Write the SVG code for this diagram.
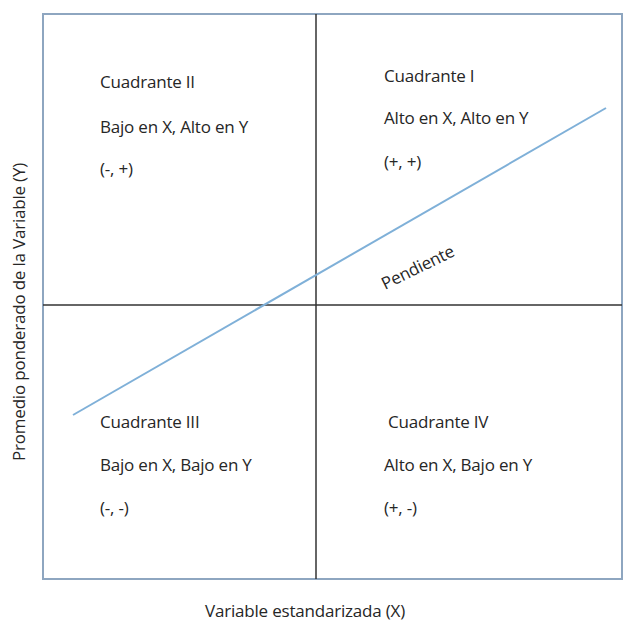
<svg xmlns="http://www.w3.org/2000/svg" width="625" height="621" viewBox="0 0 625 621">
<style>
text{font-family:"Open Sans","Liberation Sans",sans-serif;font-size:17px;fill:#262626;letter-spacing:-0.2px}
.ax{stroke:#333;stroke-width:1.5;fill:none}
</style>
<rect width="625" height="621" fill="#fff"/>
<g id="frame">
<rect x="43" y="14" width="579" height="565" fill="none" stroke="#8ea6c0" stroke-width="2"/>
</g>
<g id="connectors">
<line class="ax" x1="316" y1="14" x2="316" y2="579"/>
<line class="ax" x1="43" y1="305" x2="622" y2="305"/>
<line x1="73" y1="415" x2="606" y2="108" stroke="#7fb0d8" stroke-width="2"/>
</g>
<g id="q2"><text x="100" y="88">Cuadrante II</text><text x="100" y="133">Bajo en X, Alto en Y</text><text x="100" y="175">(-, +)</text></g>
<g id="q1"><text x="384" y="82">Cuadrante I</text><text x="384" y="124">Alto en X, Alto en Y</text><text x="384" y="168">(+, +)</text></g>
<g id="q3"><text x="100" y="428">Cuadrante III</text><text x="100" y="471">Bajo en X, Bajo en Y</text><text x="100" y="514">(-, -)</text></g>
<g id="q4"><text x="388" y="428">Cuadrante IV</text><text x="384" y="471">Alto en X, Bajo en Y</text><text x="384" y="514">(+, -)</text></g>
<g id="slope"><text transform="translate(385,290) rotate(-26)" font-size="20.5px">Pendiente</text></g>
<g id="xlabel"><text x="305" y="617" text-anchor="middle" font-size="18.5px">Variable estandarizada (X)</text></g>
<g id="ylabel"><text transform="translate(25,312) rotate(-90)" text-anchor="middle" font-size="18.5px">Promedio ponderado de la Variable (Y)</text></g>
</svg>
